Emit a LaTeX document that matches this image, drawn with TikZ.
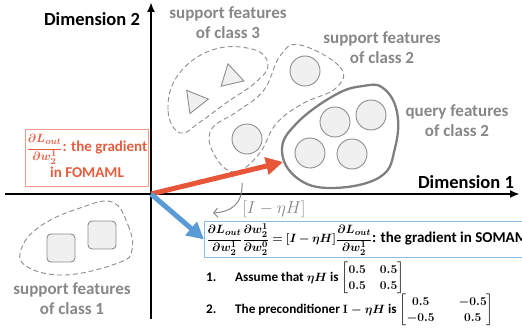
\documentclass[tikz,border=0pt]{standalone}
\usepackage{amsmath}
\usepackage{amssymb}
\usepackage{fontspec}
\setmainfont{Carlito}
\usepackage{tikz}
\usetikzlibrary{shapes.geometric, arrows.meta}

\definecolor{fored}{HTML}{E8563A}
\definecolor{fotxt}{HTML}{E65C3E}
\definecolor{fobox}{HTML}{F29C88}
\definecolor{soblue}{HTML}{5B9BD5}
\definecolor{sobox}{HTML}{8DBBE4}
\definecolor{txtgray}{HTML}{878787}
\definecolor{shapegray}{HTML}{8C8C8C}
\definecolor{shapefill}{HTML}{F0F0F0}
\definecolor{qgray}{HTML}{7F7F7F}

\newcommand{\gradout}{\dfrac{\partial L_{out}}{\partial w_2^1}}
\newcommand{\gradin}{\dfrac{\partial w_2^1}{\partial w_2^0}}
\newcommand{\mathsz}{\fontsize{12.5}{15}\selectfont\thickmuskip=4mu\medmuskip=3mu}

\begin{document}
\begin{tikzpicture}[
		x=1pt, y=-1pt,
		every node/.style={font=\bfseries\fontsize{17}{20}\selectfont},
		axis/.style={line width=2.2pt, -{Latex[length=10pt, width=8pt]}},
		tag/.style={text=txtgray, align=center},
		blob/.style={draw=shapegray, line width=0.9pt, dash pattern=on 5pt off 3pt},
		qblob/.style={draw=qgray, line width=2.3pt},
		feat/.style={circle, draw=shapegray, fill=shapefill, line width=0.9pt, minimum size=30pt, inner sep=0pt},
		tri/.style={regular polygon, regular polygon sides=3, draw=shapegray, fill=shapefill, line width=0.9pt, minimum size=27pt, inner sep=0pt},
		sqr/.style={rectangle, rounded corners=4pt, draw=shapegray, fill=shapefill, line width=0.9pt, minimum size=28pt, inner sep=0pt},
		boxtxt/.style={font=\boldmath\bfseries\fontsize{15}{18}\selectfont},
		itemtxt/.style={font=\boldmath\bfseries\fontsize{13.2}{16.5}\selectfont, anchor=west, inner sep=0pt}
	]
  \useasboundingbox (0,0) rectangle (522,331);
  % axes
  \coordinate (O) at (151,194);
  \coordinate (xl) at (5,194);
  \coordinate (xr) at (520,194);
  \coordinate (yb) at (151,319);
  \coordinate (yt) at (151,2);
  \draw[axis] (xl) -- (xr);
  \draw[axis] (yb) -- (yt);
  \node (dim1) [font=\bfseries\fontsize{18.5}{22}\selectfont] at (466,182) {Dimension 1};
  \node (dim2) [font=\bfseries\fontsize{18.5}{22}\selectfont] at (92,19) {Dimension 2};

  % feature groups
  \draw[blob] plot[smooth cycle, tension=0.7] coordinates {(180,133) (168,110) (178,75) (212,50) (252,49) (268,64) (256,82) (226,103) (200,122)};
  \draw[blob] plot[smooth cycle, tension=0.7] coordinates {(300,45) (340,67) (336,88) (302,104) (276,124) (259,154) (235,172) (215,156) (211,130) (238,111) (264,90) (280,56)};
  \draw[qblob] plot[smooth cycle, tension=0.7] coordinates {(383,88) (397,112) (395,148) (380,177) (332,188) (297,178) (282,150) (297,123) (335,95) (363,86)};
  \draw[blob] plot[smooth cycle, tension=0.7] coordinates {(112,202) (128,225) (132,250) (118,263) (65,275) (26,266) (22,247) (42,225) (80,208)};

  \node (t3a) [tri, rotate=-82] at (195,101) {};
  \node (t3b) [tri, rotate=-107] at (231,77) {};
  \node (s2a) [feat] at (305,71) {};
  \node (s2b) [feat] at (247,139) {};
  \node (q1) [feat] at (335,122) {};
  \node (q2) [feat] at (371,115) {};
  \node (q3) [feat] at (310,153) {};
  \node (q4) [feat] at (352,154) {};
  \node (s1a) [sqr] at (61,248) {};
  \node (s1b) [sqr] at (102,235) {};

  \node (lab3) [tag] at (228,23) {support features\\of class 3};
  \node (lab2) [tag] at (382,48) {support features\\of class 2};
  \node (labq) [tag] at (457,121) {query features\\of class 2};
  \node (lab1) [tag] at (72,299) {support features\\of class 1};

  % gradients
  \node (fomaml) [boxtxt, draw=fobox, line width=1pt, text=fotxt, minimum width=122pt, minimum height=57pt, inner sep=1pt] at (87,158.5) {\begin{tabular}{@{}c@{}}{\mathsz$\gradout$}: the gradient\\[1pt] in FOMAML\end{tabular}};
  \node (somaml) [boxtxt, draw=sobox, line width=1pt, anchor=west, minimum height=35pt, inner sep=2pt] at (204,239.5) {{\mathsz$\gradout\gradin=[I-\eta H]\gradout$}: the gradient in SOMAML};
  \coordinate (rtip) at (283,162);
  \draw[fored, line width=5pt, -{Triangle[length=17pt, width=17pt]}] (O) -- (rtip);
  \draw[soblue, line width=5pt, -{Triangle[length=17pt, width=17pt]}] (O) -- (somaml.west);

  \coordinate (gs) at (242,183);
  \coordinate (ge) at (213,213);
  \node (pre) [text=txtgray, font=\fontsize{17}{20}\selectfont] at (274,209) {$[I-\eta H]$};
  \draw[txtgray, line width=1pt, -{Straight Barb[length=4pt, width=9pt]}] (gs) .. controls (243,205) and (230,212) .. (ge);

  % assumptions
  \node (item1) [itemtxt] at (206,278) {\makebox[29pt][l]{1.}Assume that $\eta H$ is $\setlength{\arraycolsep}{7pt}\left[\begin{matrix}0.5 & 0.5\\ 0.5 & 0.5\end{matrix}\right]$};
  \node (item2) [itemtxt] at (206,310) {\makebox[29pt][l]{2.}The preconditioner $\mathbf{I}-\eta H$ is $\setlength{\arraycolsep}{12pt}\left[\begin{matrix}0.5 & -0.5\\ -0.5 & 0.5\end{matrix}\right]$};
\end{tikzpicture}
\end{document}
